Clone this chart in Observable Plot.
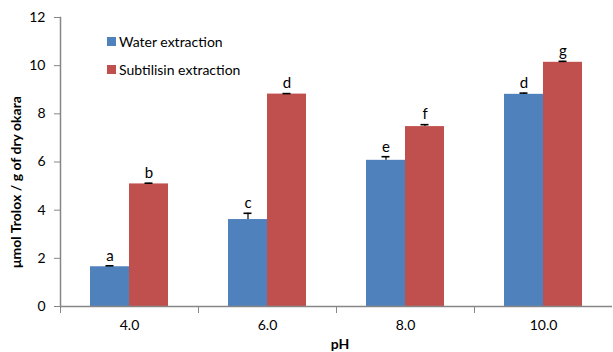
<!DOCTYPE html>
<html>
<head>
<meta charset="utf-8">
<script src="https://cdn.jsdelivr.net/npm/d3@7"></script>
<script src="https://cdn.jsdelivr.net/npm/@observablehq/plot@0.6"></script>
<style>
  body { margin: 0; background: white; }
  #wrap { position: relative; width: 613px; height: 352px; font-family: Lato, "Open Sans", sans-serif; overflow: hidden; }
  .lab { position: absolute; font-weight: bold; font-size: 14px; line-height: 14px; color: #000; white-space: nowrap; }
  .leg { position: absolute; font-size: 14px; color: #000; white-space: nowrap; display: flex; align-items: center; }
  .sw { width: 9px; height: 9px; margin-right: 3px; }
</style>
</head>
<body>
<div id="wrap"></div>
<script>
const pH = ["4.0", "6.0", "8.0", "10.0"];
const seriesNames = ["Water extraction", "Subtilisin extraction"];
const seriesColors = ["#4F81BD", "#C0504D"];
const water = [1.65, 3.61, 6.07, 8.81];
const waterErr = [0.04, 0.26, 0.15, 0.05];
const waterLetters = ["a", "c", "e", "d"];
const subtilisin = [5.09, 8.82, 7.47, 10.14];
const subtilisinErr = [0.03, 0.02, 0.08, 0.04];
const subtilisinLetters = ["b", "d", "f", "g"];
const yTicks = [0, 2, 4, 6, 8, 10, 12];
const yLabel = "μmol Trolox / g of dry okara";
const xLabel = "pH";

const rows = pH.flatMap((p, i) => [
  {pH: p, series: seriesNames[0], value: water[i], err: waterErr[i], letter: waterLetters[i]},
  {pH: p, series: seriesNames[1], value: subtilisin[i], err: subtilisinErr[i], letter: subtilisinLetters[i]}
]);
const errTop = d => d.value + d.err;
const gray = "#868686";

const chart = Plot.plot({
  width: 613, height: 352,
  marginLeft: 59, marginRight: 0, marginTop: 17, marginBottom: 46,
  style: {fontFamily: "Lato, 'Open Sans', sans-serif", fontSize: "14px", color: "#000", background: "white"},
  fx: {domain: pH, padding: 0, label: null},
  x: {domain: seriesNames, paddingInner: 0, paddingOuter: 0.757, axis: null},
  y: {domain: [0, 12], label: null},
  color: {domain: seriesNames, range: seriesColors},
  marks: [
    Plot.barY(rows, {fx: "pH", x: "series", y: "value", fill: "series"}),
    Plot.ruleX(rows, {fx: "pH", x: "series", y1: "value", y2: errTop, stroke: "black", strokeWidth: 1.2}),
    Plot.tickY(rows, {fx: "pH", x: "series", y: errTop, stroke: "black", strokeWidth: 1.6, insetLeft: 15.5, insetRight: 15.5}),
    Plot.text(rows, {fx: "pH", x: "series", y: errTop, text: "letter", dy: -10, fontSize: 15}),
    Plot.ruleY([0], {stroke: gray, strokeWidth: 1.5}),
    Plot.frame({anchor: "left", facetAnchor: "left", stroke: gray, strokeWidth: 1.5}),
    Plot.frame({anchor: "left", insetTop: 289, insetBottom: -6, stroke: gray}),
    Plot.axisY({ticks: yTicks, tickSize: 6, tickPadding: 9, stroke: gray, label: null, fontSize: 14}),
    Plot.axisFx({anchor: "bottom", tickSize: 0, tickPadding: 14, label: null, fontSize: 14})
  ]
});

const wrap = document.getElementById("wrap");
wrap.appendChild(chart);

const yl = document.createElement("div");
yl.className = "lab";
yl.textContent = yLabel;
yl.style.left = "16px"; yl.style.top = "182px";
yl.style.transform = "translate(-50%, -50%) rotate(-90deg)";
wrap.appendChild(yl);

const xl = document.createElement("div");
xl.className = "lab";
xl.textContent = xLabel;
xl.style.left = "340px"; xl.style.top = "344px";
xl.style.transform = "translate(-50%, -50%)";
wrap.appendChild(xl);

seriesNames.forEach((name, i) => {
  const item = document.createElement("div");
  item.className = "leg";
  item.style.left = "107px";
  item.style.top = (33 + i * 28) + "px";
  const sw = document.createElement("div");
  sw.className = "sw";
  sw.style.background = seriesColors[i];
  item.appendChild(sw);
  const t = document.createElement("span");
  t.textContent = name;
  item.appendChild(t);
  wrap.appendChild(item);
});
</script>
</body>
</html>
